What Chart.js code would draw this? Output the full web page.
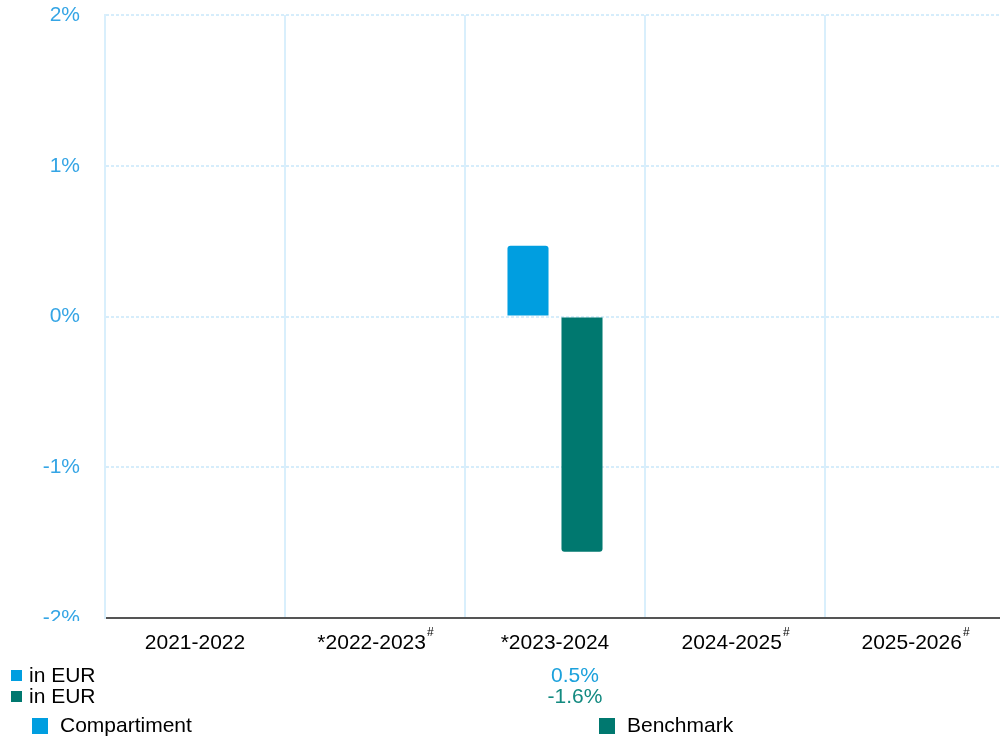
<!DOCTYPE html>
<html>
<head>
<meta charset="utf-8">
<script src="https://cdn.jsdelivr.net/npm/chart.js@4"></script>
<style>
  html, body { margin: 0; padding: 0; background: #ffffff; }
  #wrap { width: 1000px; height: 738px; overflow: hidden; }
  #inner { width: 1005px; height: 738px; position: relative; }
</style>
</head>
<body>
<div id="wrap"><div id="inner"><canvas id="chart"></canvas></div></div>
<script>
// Calendar-year periods, '#' flag marks the superscript note
const categories = ['2021-2022', '*2022-2023', '*2023-2024', '2024-2025', '2025-2026'];
const hashMarks = [false, true, false, true, true];

// Performance in %
const compartiment = [null, null, 0.47, null, null];
const benchmark = [null, null, -1.56, null, null];

const yTicks = [-2, -1, 0, 1, 2];
const seriesNames = ['Compartiment', 'Benchmark'];
const currencyLabel = 'in EUR';

const BLUE = '#009ee0';
const GREEN = '#00786f';
const FONT = '"Liberation Sans", Arial, sans-serif';

// Draws the x labels (with superscript #), the value table and the legend
const tableFooter = {
  id: 'tableFooter',
  afterDraw(chart) {
    const ctx = chart.ctx;
    const x = chart.scales.x;
    ctx.save();

    // cut the lowest y tick label at the axis
    ctx.fillStyle = '#ffffff';
    ctx.fillRect(0, 621, 100, 18);

    ctx.textBaseline = 'middle';
    ctx.fillStyle = '#000000';
    categories.forEach((cat, i) => {
      ctx.font = '21px ' + FONT;
      const w = ctx.measureText(cat).width;
      ctx.font = '12px ' + FONT;
      const sw = hashMarks[i] ? ctx.measureText('#').width : 0;
      const cx = x.getPixelForValue(i);
      const start = cx - (w + sw) / 2;
      ctx.font = '21px ' + FONT;
      ctx.textAlign = 'left';
      ctx.fillText(cat, start, 643);
      if (hashMarks[i]) {
        ctx.font = '12px ' + FONT;
        ctx.fillText('#', start + w + 1, 633);
      }
    });

    // value rows
    const rows = [
      { data: compartiment, color: BLUE, textColor: '#1ba1dc', y: 676 },
      { data: benchmark, color: GREEN, textColor: '#138a80', y: 697 }
    ];
    rows.forEach(r => {
      ctx.fillStyle = r.color;
      ctx.fillRect(11, r.y - 6, 11, 11);
      ctx.fillStyle = '#000000';
      ctx.font = '21px ' + FONT;
      ctx.textAlign = 'left';
      ctx.fillText(currencyLabel, 29, r.y);
      r.data.forEach((v, i) => {
        if (v === null) return;
        ctx.fillStyle = r.textColor;
        ctx.textAlign = 'center';
        ctx.fillText(v.toFixed(1) + '%', x.getPixelForValue(i) + 20, r.y);
      });
    });

    // legend
    const legend = [
      { name: seriesNames[0], color: BLUE, x: 32 },
      { name: seriesNames[1], color: GREEN, x: 599 }
    ];
    legend.forEach(l => {
      ctx.fillStyle = l.color;
      ctx.fillRect(l.x, 718, 16, 16);
      ctx.fillStyle = '#000000';
      ctx.textAlign = 'left';
      ctx.font = '21px ' + FONT;
      ctx.fillText(l.name, l.x + 28, 726);
    });

    ctx.restore();
  }
};

new Chart(document.getElementById('chart'), {
  type: 'bar',
  data: {
    labels: categories,
    datasets: [
      {
        label: seriesNames[0],
        data: compartiment,
        backgroundColor: BLUE,
        borderRadius: 3,
        borderSkipped: 'start',
        categoryPercentage: 0.6,
        barPercentage: 0.76
      },
      {
        label: seriesNames[1],
        data: benchmark,
        backgroundColor: GREEN,
        borderRadius: 3,
        borderSkipped: 'start',
        categoryPercentage: 0.6,
        barPercentage: 0.76
      }
    ]
  },
  options: {
    responsive: true,
    maintainAspectRatio: false,
    animation: false,
    layout: { padding: { top: 15, right: 0, left: 0, bottom: 0 } },
    plugins: {
      legend: { display: false },
      tooltip: { enabled: false }
    },
    scales: {
      x: {
        ticks: { display: false },
        grid: {
          color: '#d9effc',
          lineWidth: 2,
          drawTicks: false,
          offset: true
        },
        border: { color: '#555555', width: 2 },
        afterFit(scale) { scale.height = 120; }
      },
      y: {
        min: yTicks[0],
        max: yTicks[yTicks.length - 1],
        afterBuildTicks(scale) {
          scale.ticks = yTicks.map(v => ({ value: v }));
        },
        ticks: {
          color: '#35a5e5',
          font: { family: FONT, size: 21 },
          padding: 25,
          callback: v => v + '%'
        },
        grid: {
          color: '#d6edfb',
          lineWidth: 2,
          drawTicks: false,
          tickBorderDash: [3, 2]
        },
        border: { color: '#d9effc', width: 2, dash: [3, 2] },
        afterFit(scale) {
          scale.width = 105;
          scale.paddingTop = 0;
          scale.paddingBottom = 0;
        }
      }
    }
  },
  plugins: [tableFooter]
});
</script>
</body>
</html>
